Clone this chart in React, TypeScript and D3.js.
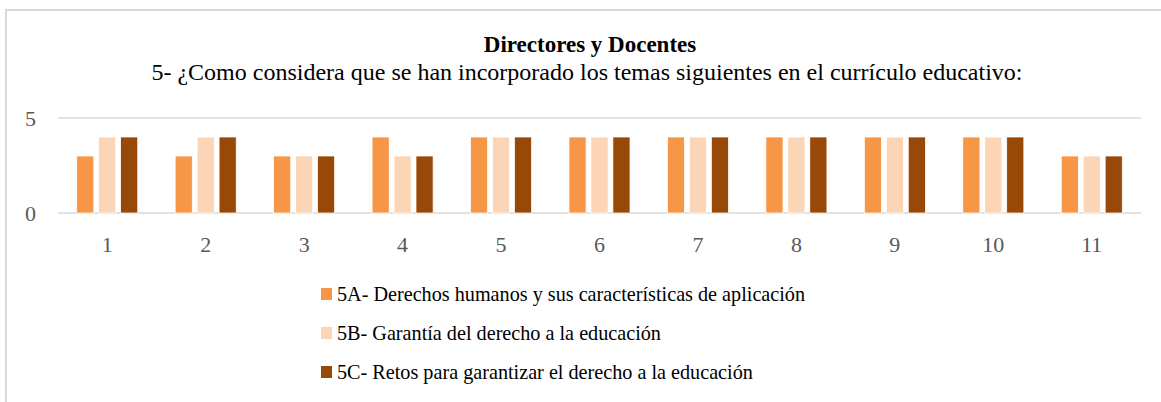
import React, { useRef, useEffect } from 'react';
import * as d3 from 'd3';

// categories and series
const categories = ['1', '2', '3', '4', '5', '6', '7', '8', '9', '10', '11'];
const seriesNames = [
  '5A- Derechos humanos y sus características de aplicación',
  '5B- Garantía del derecho a la educación',
  '5C- Retos para garantizar el derecho a la educación',
];
const values5A = [3, 3, 3, 4, 4, 4, 4, 4, 4, 4, 3];
const values5B = [4, 4, 3, 3, 4, 4, 4, 4, 4, 4, 3];
const values5C = [4, 4, 3, 3, 4, 4, 4, 4, 4, 4, 3];
const yTicks = [0, 5];
const colors = ['#F79646', '#FBD5B5', '#984807'];

const App = () => {
  const svgRef = useRef(null);

  useEffect(() => {
    const svg = d3.select(svgRef.current);
    svg.selectAll('*').remove();

    const width = 1161;
    const height = 402;
    const margin = { left: 58, right: 20, top: 118, bottom: 189 };
    const series = [values5A, values5B, values5C];

    // chart border (left and top only visible)
    svg
      .append('rect')
      .attr('x', 6)
      .attr('y', 10)
      .attr('width', width + 20)
      .attr('height', height + 20)
      .attr('fill', 'none')
      .attr('stroke', '#d9d9d9')
      .attr('stroke-width', 2);

    // titles
    svg
      .append('text')
      .attr('x', 590)
      .attr('y', 52)
      .attr('text-anchor', 'middle')
      .attr('font-family', '"Liberation Serif", serif')
      .attr('font-weight', 'bold')
      .attr('font-size', 23)
      .attr('fill', '#000')
      .text('Directores y Docentes');

    svg
      .append('text')
      .attr('x', 587)
      .attr('y', 80)
      .attr('text-anchor', 'middle')
      .attr('font-family', '"Liberation Serif", serif')
      .attr('font-size', 24)
      .attr('fill', '#000')
      .text('5- ¿Como considera que se han incorporado los temas siguientes en el currículo educativo:');

    const x0 = d3
      .scaleBand()
      .domain(categories)
      .range([margin.left, width - margin.right])
      .paddingInner(0.38)
      .paddingOuter(0.19);

    const x1 = d3
      .scaleBand()
      .domain(['0', '1', '2'])
      .range([0, x0.bandwidth()])
      .paddingInner(0.22);

    const y = d3.scaleLinear().domain([0, 5]).range([213, 118]);

    // gridlines
    svg
      .selectAll('.grid')
      .data(yTicks)
      .enter()
      .append('line')
      .attr('x1', margin.left)
      .attr('x2', width - margin.right)
      .attr('y1', (d) => y(d))
      .attr('y2', (d) => y(d))
      .attr('stroke', '#d9d9d9')
      .attr('stroke-width', 1.5);

    svg
      .selectAll('.ylab')
      .data(yTicks)
      .enter()
      .append('text')
      .attr('x', 36)
      .attr('y', (d) => y(d) + 8)
      .attr('text-anchor', 'end')
      .attr('font-family', '"Liberation Serif", serif')
      .attr('font-size', 22)
      .attr('fill', '#595959')
      .text((d) => d);

    // bars
    series.forEach((vals, si) => {
      svg
        .selectAll('.bar' + si)
        .data(vals)
        .enter()
        .append('rect')
        .attr('x', (d, i) => x0(categories[i]) + x1(String(si)))
        .attr('y', (d) => y(d))
        .attr('width', x1.bandwidth())
        .attr('height', (d) => y(0) - y(d))
        .attr('fill', colors[si])
        .attr('stroke', '#fff')
        .attr('stroke-width', 0.75);
    });

    // x labels
    svg
      .selectAll('.xlab')
      .data(categories)
      .enter()
      .append('text')
      .attr('x', (d) => x0(d) + x0.bandwidth() / 2)
      .attr('y', 252)
      .attr('text-anchor', 'middle')
      .attr('font-family', '"Liberation Serif", serif')
      .attr('font-size', 22)
      .attr('fill', '#595959')
      .text((d) => d);

    // legend
    const legend = svg
      .selectAll('.legend')
      .data(seriesNames)
      .enter()
      .append('g')
      .attr('transform', (d, i) => `translate(321, ${288 + i * 39})`);

    legend
      .append('rect')
      .attr('width', 11)
      .attr('height', 12)
      .attr('fill', (d, i) => colors[i]);

    legend
      .append('text')
      .attr('x', 16)
      .attr('y', 13)
      .attr('font-family', '"Liberation Serif", serif')
      .attr('font-size', 20.2)
      .attr('fill', '#000')
      .text((d) => d);
  }, []);

  return (
    <svg
      ref={svgRef}
      width={1161}
      height={402}
      style={{ position: 'absolute', left: 0, top: 0, background: '#fff' }}
    ></svg>
  );
};

export default App;
